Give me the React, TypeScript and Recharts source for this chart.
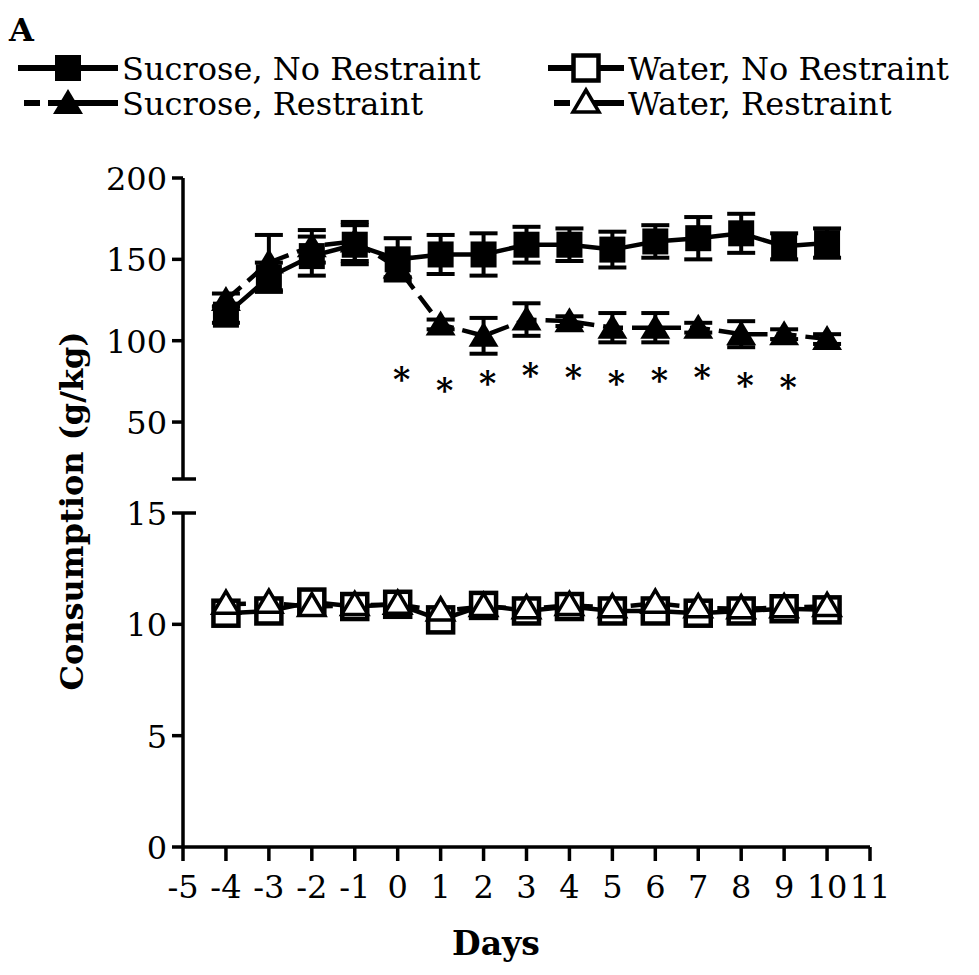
import React from 'react';
import { ComposedChart, Line, Scatter, XAxis, YAxis, ErrorBar } from 'recharts';

// days on which groups were measured
const days = [-4, -3, -2, -1, 0, 1, 2, 3, 4, 5, 6, 7, 8, 9, 10];

const sucroseNoRestraint = [116, 139, 152, 159, 150, 153, 153, 159, 159, 156, 161, 163, 166, 158, 160];
const sucroseNoRestraintSem = [5, 9, 12, 12, 13, 12, 13, 11, 10, 11, 10, 13, 12, 8, 9];
const sucroseRestraint = [125, 148, 158, 161, 145, 110, 103, 113, 112, 108, 108, 108, 104, 104, 101];
const sucroseRestraintSem = [4, 17, 10, 12, 6, 3, 11, 10, 3, 9, 9, 3, 8, 3, 3];

const waterNoRestraint = [10.5, 10.6, 11.0, 10.8, 10.9, 10.2, 10.85, 10.6, 10.8, 10.6, 10.6, 10.5, 10.6, 10.7, 10.65];
const waterNoRestraintSem = [0.2, 0.2, 0.2, 0.2, 0.2, 0.2, 0.2, 0.2, 0.2, 0.2, 0.2, 0.2, 0.2, 0.2, 0.2];
const waterRestraint = [10.9, 10.95, 10.8, 10.85, 10.9, 10.6, 10.8, 10.7, 10.85, 10.75, 10.95, 10.75, 10.7, 10.75, 10.8];
const waterRestraintSem = [0.15, 0.15, 0.15, 0.15, 0.15, 0.15, 0.15, 0.15, 0.15, 0.15, 0.15, 0.15, 0.15, 0.15, 0.15];

// significance markers (*) under the sucrose curves
const starDays = [0, 1, 2, 3, 4, 5, 6, 7, 8, 9];
const starLevels = [81, 74, 78, 83, 82, 78, 80, 82, 77, 76];

const xTicks = [-5, -4, -3, -2, -1, 0, 1, 2, 3, 4, 5, 6, 7, 8, 9, 10, 11];
const upperTicks = [15, 50, 100, 150, 200];
const lowerTicks = [0, 5, 10, 15];

const upperRows = days.map((day, i) => ({
  day,
  snr: sucroseNoRestraint[i],
  snrErr: sucroseNoRestraintSem[i],
  sr: sucroseRestraint[i],
  srErr: sucroseRestraintSem[i],
}));

const lowerRows = days.map((day, i) => ({
  day,
  wnr: waterNoRestraint[i],
  wnrErr: waterNoRestraintSem[i],
  wr: waterRestraint[i],
  wrErr: waterRestraintSem[i],
}));

const starRows = starDays.map((day, i) => ({ day, level: starLevels[i] }));

const FONT = '"DejaVu Serif", serif';
const INK = '#000';
const AXIS_W = 3.5;
const LINE_W = 4.5;
const DASH = '20 9';

const FilledSquare = ({ cx, cy }: any) => (
  <rect x={cx - 13} y={cy - 13} width={26} height={26} fill={INK} />
);
const FilledTriangle = ({ cx, cy }: any) => (
  <polygon points={`${cx},${cy - 14} ${cx - 15},${cy + 11} ${cx + 15},${cy + 11}`} fill={INK} />
);
const OpenSquare = ({ cx, cy }: any) => (
  <rect x={cx - 12.5} y={cy - 12.5} width={25} height={25} fill="#fff" stroke={INK} strokeWidth={4.5} />
);
const OpenTriangle = ({ cx, cy }: any) => (
  <polygon
    points={`${cx},${cy - 13} ${cx - 13},${cy + 9} ${cx + 13},${cy + 9}`}
    fill="#fff"
    stroke={INK}
    strokeWidth={3.5}
  />
);

const dotOf = (Shape: any) => (p: any) =>
  p.cx == null || p.cy == null ? <g key={p.key ?? p.index} /> : <Shape key={p.key ?? p.index} cx={p.cx} cy={p.cy} />;

const Star = ({ cx, cy }: any) => (
  <text x={cx + 4} y={cy + 19} textAnchor="middle" fontFamily={FONT} fontWeight="bold" fontSize={33} fill={INK}>
    *
  </text>
);

// y tick: label to the left, tick outward; the break value gets a cap on both sides
const makeYTick = (breakValue: number, labelBreak: boolean) => (props: any) => {
  const { x, y, payload } = props;
  const isBreak = payload.value === breakValue;
  return (
    <g>
      <line x1={x - 11} y1={y} x2={isBreak ? x + 13 : x} y2={y} stroke={INK} strokeWidth={AXIS_W} />
      {(!isBreak || labelBreak) && (
        <text x={x - 16} y={y + 12} textAnchor="end" fontFamily={FONT} fontSize={32} fill={INK}>
          {payload.value}
        </text>
      )}
    </g>
  );
};

const XTick = (props: any) => {
  const { x, y, payload } = props;
  return (
    <g>
      <line x1={x} y1={y} x2={x} y2={y + 14} stroke={INK} strokeWidth={AXIS_W} />
      <text x={x} y={y + 51} textAnchor="middle" fontFamily={FONT} fontSize={32} fill={INK}>
        {payload.value}
      </text>
    </g>
  );
};

const legendItems = [
  { label: 'Sucrose, No Restraint', shape: FilledSquare, dashed: false, x: 18, y: 68 },
  { label: 'Sucrose, Restraint', shape: FilledTriangle, dashed: true, x: 18, y: 103 },
  { label: 'Water, No Restraint', shape: OpenSquare, dashed: false, x: 548, y: 68 },
  { label: 'Water, Restraint', shape: OpenTriangle, dashed: true, x: 548, y: 103 },
];

function Overlay() {
  return (
    <svg width={979} height={975} style={{ position: 'absolute', left: 0, top: 0, pointerEvents: 'none' }}>
      <text x={9} y={41} fontFamily={FONT} fontWeight="bold" fontSize={32} fill={INK}>
        A
      </text>
      {legendItems.map((it) => {
        const Shape = it.shape;
        const w = it.x === 18 ? 100 : 76;
        const mid = it.x + w / 2;
        return (
          <g key={it.label}>
            {it.dashed ? (
              <>
                <line x1={it.x + 6} y1={it.y} x2={it.x + 22} y2={it.y} stroke={INK} strokeWidth={6} />
                <line x1={it.x + 30} y1={it.y} x2={it.x + w} y2={it.y} stroke={INK} strokeWidth={6} />
              </>
            ) : (
              <line x1={it.x} y1={it.y} x2={it.x + w} y2={it.y} stroke={INK} strokeWidth={6} />
            )}
            <Shape cx={mid} cy={it.y} />
            <text x={it.x + w + 4} y={it.y + 12} fontFamily={FONT} fontSize={32} fill={INK}>
              {it.label}
            </text>
          </g>
        );
      })}
      <text
        transform="translate(83, 511) rotate(-90)"
        textAnchor="middle"
        fontFamily={FONT}
        fontWeight="bold"
        fontSize={32}
        fill={INK}
      >
        Consumption (g/kg)
      </text>
      <text x={496} y={955} textAnchor="middle" fontFamily={FONT} fontWeight="bold" fontSize={33} fill={INK}>
        Days
      </text>
    </svg>
  );
}

export default function App() {
  return (
    <div style={{ position: 'absolute', left: 0, top: 0, width: 979, height: 975, background: '#fff' }}>
      {/* upper segment of the broken axis: sucrose */}
      <div style={{ position: 'absolute', left: 0, top: 0 }}>
        <ComposedChart width={979} height={500} data={upperRows} margin={{ top: 178, right: 109, bottom: 21, left: 0 }}>
          <XAxis dataKey="day" type="number" domain={[-5, 11]} ticks={xTicks} hide />
          <YAxis
            type="number"
            domain={[15, 200]}
            ticks={upperTicks}
            interval={0}
            width={183}
            tickSize={0}
            tickMargin={0}
            tickLine={false}
            axisLine={{ stroke: INK, strokeWidth: AXIS_W }}
            tick={makeYTick(15, false)}
          />
          <Line
            dataKey="sr"
            stroke={INK}
            strokeWidth={LINE_W}
            strokeDasharray={DASH}
            dot={dotOf(FilledTriangle)}
            isAnimationActive={false}
          >
            <ErrorBar dataKey="srErr" direction="y" width={14} stroke={INK} strokeWidth={4} isAnimationActive={false} />
          </Line>
          <Line dataKey="snr" stroke={INK} strokeWidth={LINE_W} dot={dotOf(FilledSquare)} isAnimationActive={false}>
            <ErrorBar dataKey="snrErr" direction="y" width={14} stroke={INK} strokeWidth={4} isAnimationActive={false} />
          </Line>
          <Scatter data={starRows} dataKey="level" shape={Star} isAnimationActive={false} />
        </ComposedChart>
      </div>
      {/* lower segment: water */}
      <div style={{ position: 'absolute', left: 0, top: 0 }}>
        <ComposedChart width={979} height={975} data={lowerRows} margin={{ top: 513, right: 109, bottom: 0, left: 0 }}>
          <XAxis
            dataKey="day"
            type="number"
            domain={[-5, 11]}
            ticks={xTicks}
            interval={0}
            height={128}
            tickSize={0}
            tickMargin={0}
            tickLine={false}
            axisLine={{ stroke: INK, strokeWidth: AXIS_W }}
            tick={XTick}
          />
          <YAxis
            type="number"
            domain={[0, 15]}
            ticks={lowerTicks}
            interval={0}
            width={183}
            tickSize={0}
            tickMargin={0}
            tickLine={false}
            axisLine={{ stroke: INK, strokeWidth: AXIS_W }}
            tick={makeYTick(15, true)}
          />
          <Line dataKey="wnr" stroke={INK} strokeWidth={LINE_W} dot={dotOf(OpenSquare)} isAnimationActive={false}>
            <ErrorBar dataKey="wnrErr" direction="y" width={14} stroke={INK} strokeWidth={3.5} isAnimationActive={false} />
          </Line>
          <Line
            dataKey="wr"
            stroke={INK}
            strokeWidth={LINE_W}
            strokeDasharray={DASH}
            dot={dotOf(OpenTriangle)}
            isAnimationActive={false}
          >
            <ErrorBar dataKey="wrErr" direction="y" width={14} stroke={INK} strokeWidth={3.5} isAnimationActive={false} />
          </Line>
        </ComposedChart>
      </div>
      <Overlay />
    </div>
  );
}
